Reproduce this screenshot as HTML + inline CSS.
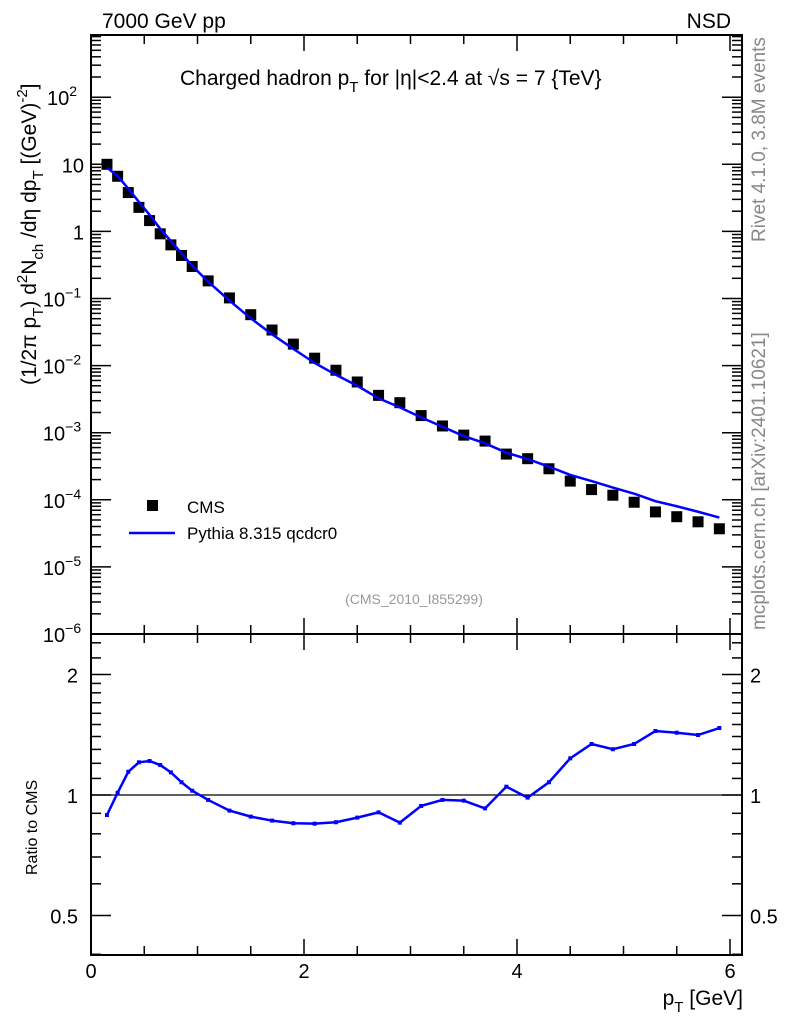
<!DOCTYPE html>
<html><head><meta charset="utf-8"><style>
body{margin:0;background:#fff;}
svg text{font-family:"Liberation Sans",sans-serif;}
</style></head><body>
<svg id="c" width="786" height="1024" xmlns="http://www.w3.org/2000/svg">
<g id="g"></g>
</svg>
<script>
const pT=[0.15,0.25,0.35,0.45,0.55,0.65,0.75,0.85,0.95,1.1,1.3,1.5,1.7,1.9,2.1,2.3,2.5,2.7,2.9,3.1,3.3,3.5,3.7,3.9,4.1,4.3,4.5,4.7,4.9,5.1,5.3,5.5,5.7,5.9];
const cms=[10.0,6.63,3.79,2.28,1.45,0.92,0.63,0.438,0.30,0.183,0.102,0.0574,0.0339,0.0209,0.0129,0.00853,0.0057,0.0036,0.0028,0.0018,0.00126,0.00092,0.00075,0.00048,0.00041,0.00029,0.00019,0.000142,0.000117,0.000092,0.000066,0.000056,0.000047,0.000037];
const ratio=[0.891,1.013,1.143,1.207,1.216,1.188,1.139,1.076,1.025,0.972,0.914,0.883,0.863,0.850,0.848,0.855,0.878,0.905,0.853,0.939,0.972,0.968,0.926,1.049,0.985,1.076,1.235,1.341,1.301,1.341,1.445,1.431,1.412,1.47];
const xTicks=[0,2,4,6];
const yMainTicks=[-6,-5,-4,-3,-2,-1,0,1,2];
const yRatioTicks=[0.5,1,2];

const L=91,R=742,T=35,MB=634,RB=955;
const X=v=>L+v*106.5;
const YM=v=>MB-(Math.log10(v)+6)*67.1;
const YR=v=>795-Math.log2(v)*120.5;
const NS='http://www.w3.org/2000/svg';
const g=document.getElementById('g');
function el(t,a,txt){const e=document.createElementNS(NS,t);for(const k in a)e.setAttribute(k,a[k]);if(txt!==undefined)e.innerHTML=txt;g.appendChild(e);return e;}

let f=el('rect',{x:L,y:T,width:R-L,height:MB-T,fill:'none',stroke:'#000','stroke-width':2});


f=el('rect',{x:L,y:MB,width:R-L,height:RB-MB,fill:'none',stroke:'#000','stroke-width':2});



for(let v=0;v<=6.01;v+=0.5){
  const major=Math.abs(v-Math.round(v/2)*2)<1e-6;
  const len=major?16:9;const x=X(v);
  for(const [y0,d] of [[T,1],[MB,-1],[MB,1],[RB,-1]]){
    const t=el('line',{x1:x,x2:x,y1:y0,y2:y0+d*len,stroke:'#000','stroke-width':1.5});
    
    
  }
}
xTicks.forEach(v=>{const t=el('text',{x:X(v),y:978,'font-size':20,'text-anchor':'middle'},v);

});

for(let d=-6;d<=2;d++){
  for(let m=1;m<=9;m++){
    const v=m*Math.pow(10,d);const y=YM(v);
    if(y<T-0.5||y>MB+0.5)continue;
    const len=m==1?20:10;
    for(const [x0,s] of [[L,1],[R,-1]]){
      const t=el('line',{x1:x0,x2:x0+s*len,y1:y,y2:y,stroke:'#000','stroke-width':1.5});
      
      
    }
  }
}
yMainTicks.forEach(d=>{
  const lab=d==0?'1':d==1?'10':'10<tspan dy="-9" font-size="14">'+(d<0?'\u2212':'')+Math.abs(d)+'</tspan>';
  const t=el('text',{x:62,y:YM(Math.pow(10,d))+8,'font-size':20,'text-anchor':d<=1&&d>=0?'end':'middle'},lab);
  if(d==0||d==1){t.setAttribute('x',84);}
  
  
});

const rt=[0.4,0.5,0.6,0.7,0.8,0.9,1,1.1,1.2,1.3,1.4,1.5,1.6,1.7,1.8,1.9,2,2.2,2.4];
rt.forEach(v=>{const y=YR(v);if(y<MB||y>RB)return;const major=yRatioTicks.includes(v);const len=major?20:10;
  for(const [x0,s] of [[L,1],[R,-1]]){
    const t=el('line',{x1:x0,x2:x0+s*len,y1:y,y2:y,stroke:'#000','stroke-width':1.5});
    
    
  }});
yRatioTicks.forEach(v=>{
  for(const [x,a] of [[78,'end'],[750,'start']]){
    const t=el('text',{x:x,y:YR(v)+8,'font-size':20,'text-anchor':a},v);
    
    
  }});
let ref=el('line',{x1:L,x2:R,y1:YR(1),y2:YR(1),stroke:'#000','stroke-width':1.2});



pT.forEach((p,i)=>{const r=el('rect',{x:X(p)-5.5,y:YM(cms[i])-5.5,width:11,height:11,fill:'#000'});

});
const mc=pT.map((p,i)=>X(p)+','+YM(cms[i]*ratio[i])).join(' ');
let pl=el('polyline',{points:mc,fill:'none',stroke:'#0000ff','stroke-width':2.5});


const rp=pT.map((p,i)=>X(p)+','+YR(ratio[i])).join(' ');
pl=el('polyline',{points:rp,fill:'none',stroke:'#0000ff','stroke-width':2.5});


pT.forEach((p,i)=>{const r=el('rect',{x:X(p)-2,y:YR(ratio[i])-2,width:4,height:4,fill:'#0000ff'});

});

function tx(name,a,s){const t=el('text',a,s);return t;}
tx('energy-label',{x:102,y:28,'font-size':21},'7000 GeV pp');
tx('process-label',{x:731,y:28,'font-size':21,'text-anchor':'end'},'NSD');
tx('plot-title',{x:180,y:85,'font-size':21},'Charged hadron p<tspan dy="7" font-size="15">T</tspan><tspan dy="-7"> for |η|&lt;2.4 at √s = 7 {TeV}</tspan>');
tx('y-axis-title',{transform:'translate(36,385) rotate(-90)','font-size':21},'(1/2π p<tspan dy="7" font-size="15">T</tspan><tspan dy="-7">) d</tspan><tspan dy="-9" font-size="15">2</tspan><tspan dy="9">N</tspan><tspan dy="7" font-size="15">ch</tspan><tspan dy="-7"> /dη  dp</tspan><tspan dy="7" font-size="15">T</tspan><tspan dy="-7"> [(GeV)</tspan><tspan dy="-9" font-size="15">-2</tspan><tspan dy="9">]</tspan>');
tx('ratio-axis-title',{transform:'translate(37,875) rotate(-90)','font-size':16},'Ratio to CMS');
tx('x-axis-title',{x:743,y:1005,'font-size':21,'text-anchor':'end'},'p<tspan dy="7" font-size="15">T</tspan><tspan dy="-7"> [GeV]</tspan>');
tx('analysis-id',{x:414,y:604,'font-size':14,fill:'#999','text-anchor':'middle'},'(CMS_2010_I855299)');
tx('rivet-label',{transform:'translate(765,242) rotate(-90)','font-size':19,fill:'#888'},'Rivet 4.1.0,  3.8M events');
tx('mcplots-label',{transform:'translate(765,630) rotate(-90)','font-size':19,fill:'#888'},'mcplots.cern.ch [arXiv:2401.10621]');
let lm=el('rect',{x:147,y:500,width:11,height:11,fill:'#000'});


tx('legend-cms-label',{x:187,y:513,'font-size':17},'CMS');
lm=el('line',{x1:129,x2:175,y1:533,y2:533,stroke:'#0000ff','stroke-width':2.5});


tx('legend-pythia-label',{x:187,y:539,'font-size':17},'Pythia 8.315 qcdcr0');
</script>
</body></html>
